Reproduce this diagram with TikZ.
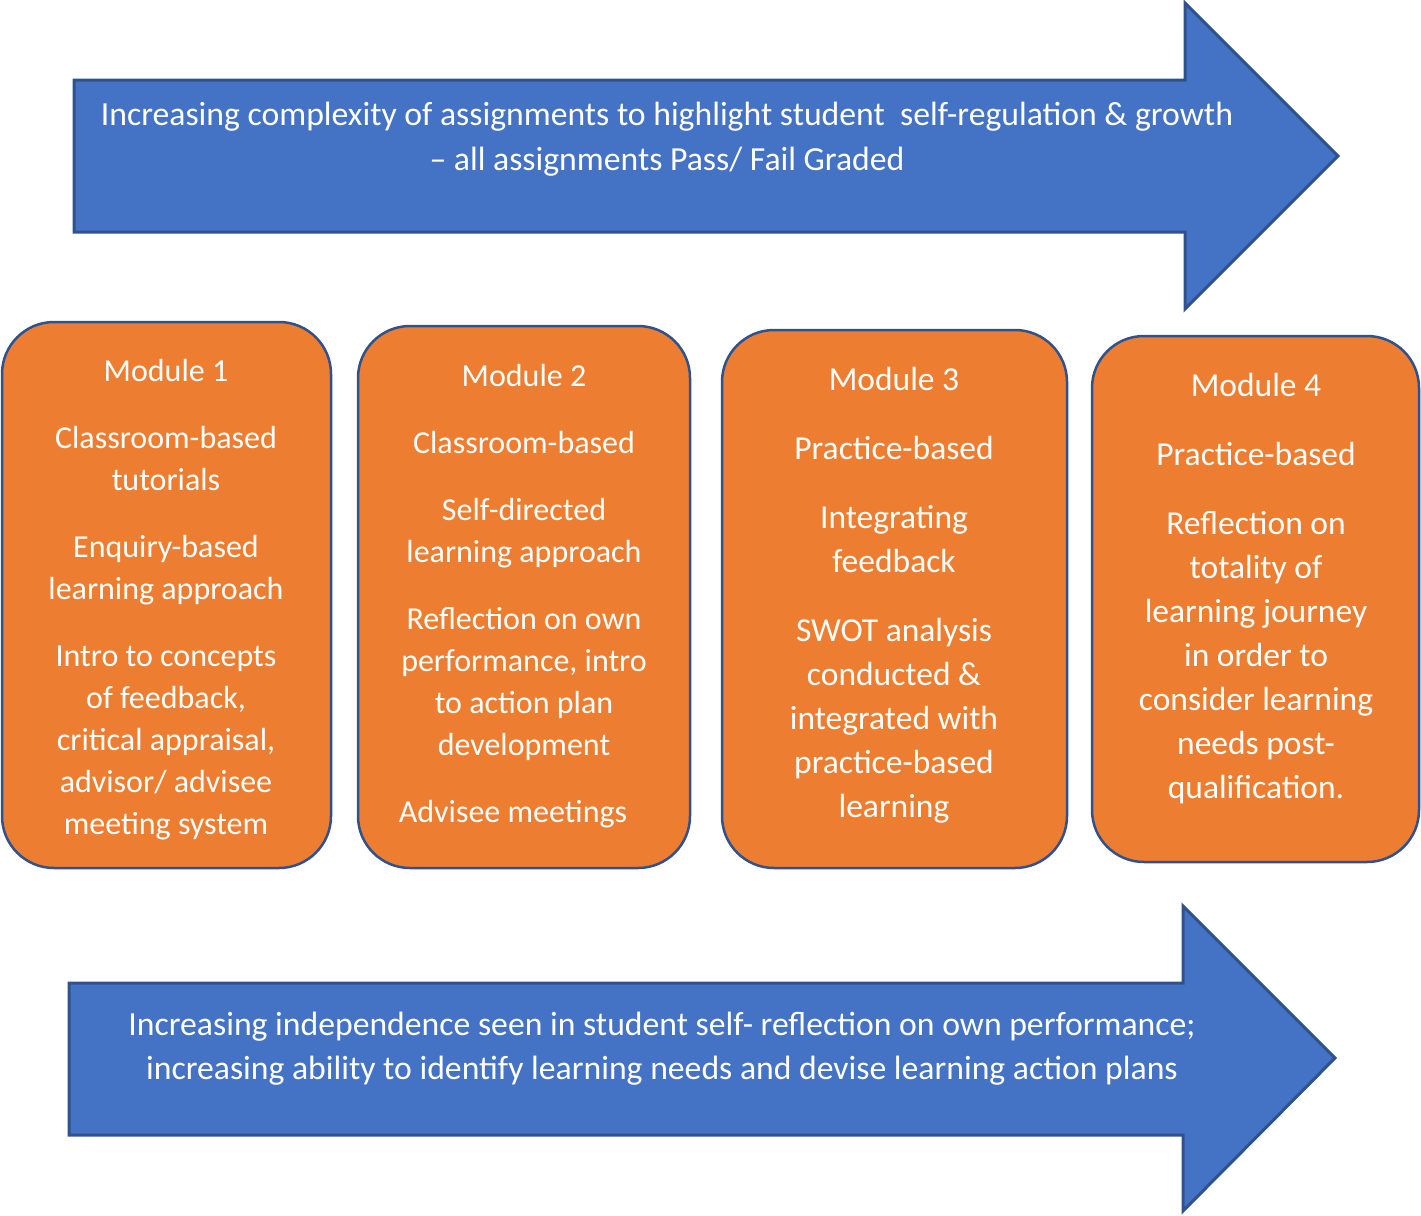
\documentclass[tikz,border=0pt]{standalone}
\usepackage{fontspec}
\setmainfont{Carlito}
\definecolor{arrowblue}{HTML}{4472C4}
\definecolor{edgeblue}{HTML}{2F528F}
\definecolor{modorange}{HTML}{ED7D31}
\tikzset{
  bigarrow/.style={fill=arrowblue, draw=edgeblue, line width=3pt, line join=miter},
  modbox/.style={fill=modorange, draw=edgeblue, line width=2.5pt, rounded corners=52pt, inner sep=0pt},
  modtextA/.style={text=white, align=center, font=\fontsize{32}{42}\selectfont, inner sep=0pt},
  modtextB/.style={text=white, align=center, font=\fontsize{33.5}{44}\selectfont, inner sep=0pt},
  arrowtext/.style={text=white, align=center, font=\fontsize{33.7}{45}\selectfont, inner sep=0pt}
}
\begin{document}
\begin{tikzpicture}[x=1pt,y=-1pt]
\useasboundingbox (0,0) rectangle (1421,1215);
% top arrow
\draw[bigarrow] (74,80) -- (1185,80) -- (1185,3) -- (1338,156) -- (1185,309) -- (1185,232) -- (74,232) -- cycle;
\node[arrowtext] (toptext) at (667,139) {Increasing complexity of assignments to highlight student \ self-regulation \& growth\\– all assignments Pass/ Fail Graded};
% bottom arrow
\draw[bigarrow] (69,983) -- (1183,983) -- (1183,906) -- (1335,1058) -- (1183,1211) -- (1183,1135) -- (69,1135) -- cycle;
\node[arrowtext, font=\fontsize{33.7}{44}\selectfont] (bottext) at (662,1049) {Increasing independence seen in student self- reflection on own performance;\\increasing ability to identify learning needs and devise learning action plans};
% modules
\draw[modbox] (2,322) rectangle (331,868);
\draw[modbox] (358,326) rectangle (690,868);
\draw[modbox] (722,330) rectangle (1067,868);
\draw[modbox] (1092,336) rectangle (1419,862);
\node[modtextA] (m1) at (166,600) {Module 1\\[25pt]Classroom-based\\tutorials\\[25pt]Enquiry-based\\learning approach\\[25pt]Intro to concepts\\of feedback,\\critical appraisal,\\advisor/ advisee\\meeting system};
\node[modtextA] (m2) at (524,596) {Module 2\\[25pt]Classroom-based\\[25pt]Self-directed\\learning approach\\[25pt]Reflection on own\\performance, intro\\to action plan\\development\\[25pt]Advisee meetings\kern22pt};
\node[modtextB] (m3) at (894,595) {Module 3\\[25pt]Practice-based\\[25pt]Integrating\\feedback\\[25pt]SWOT analysis\\conducted \&\\integrated with\\practice-based\\learning};
\node[modtextB] (m4) at (1256,589) {Module 4\\[25pt]Practice-based\\[25pt]Reflection on\\totality of\\learning journey\\in order to\\consider learning\\needs post-\\qualification.};
\end{tikzpicture}
\end{document}
